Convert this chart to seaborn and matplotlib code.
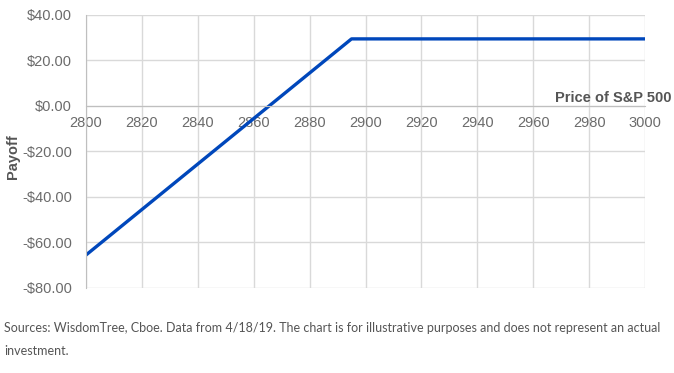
import seaborn as sns
import pandas as pd
from matplotlib import pyplot as plt
import matplotlib.ticker as mtick

# payoff of the position at expiry
price = [2800, 2895, 3000]
payoff = [-65.5, 29.5, 29.5]

x_ticks = list(range(2800, 3001, 20))
y_ticks = list(range(-80, 41, 20))

sns.set_style("whitegrid")
plt.rcParams['font.family'] = ['Liberation Sans', 'DejaVu Sans']

df = pd.DataFrame({'Price': price, 'Payoff': payoff})

fig = plt.figure(figsize=(6.74, 3.73), dpi=100)
ax = fig.add_axes([86 / 674, 1 - 288 / 373, (645 - 86) / 674, (288 - 15) / 373])

sns.lineplot(x='Price', y='Payoff', data=df, color='#0047bb', linewidth=2.4, ax=ax)

ax.set_xlim(2800, 3000)
ax.set_ylim(-80, 40)
ax.set_xticks(x_ticks)
ax.set_yticks(y_ticks)
ax.yaxis.set_major_formatter(mtick.FuncFormatter(
    lambda v, p: ('-$%.2f' % abs(v)) if v < 0 else '$%.2f' % v))

ax.grid(color='#d9d9d9', linewidth=1)
for s in ['top', 'right']:
    ax.spines[s].set_visible(False)
ax.spines['left'].set_color('#bfbfbf')
ax.spines['bottom'].set_color('#bfbfbf')
ax.spines['bottom'].set_position(('data', 0))
ax.tick_params(axis='both', length=0, labelsize=10.5, labelcolor='#6b6b6b')
ax.tick_params(axis='y', pad=10)
ax.tick_params(axis='x', pad=7)

ax.set_xlabel('')
ax.set_ylabel('Payoff', fontsize=10.5, fontweight='bold', color='#555555', labelpad=4)
ax.yaxis.set_label_coords(-0.118, 0.48)
ax.text(1.047, 0.695, 'Price of S&P 500', transform=ax.transAxes, ha='right',
        va='center', fontsize=10.5, fontweight='bold', color='#555555')

fig.text(4 / 674, 1 - 328 / 373, 'Sources: WisdomTree, Cboe. Data from 4/18/19. The chart is for '
         'illustrative purposes and does not represent an actual', fontsize=9.0,
         color='#555555', va='center', family=['Lato', 'DejaVu Sans'])
fig.text(4 / 674, 1 - 351 / 373, 'investment.', fontsize=9.0, color='#555555', va='center',
         family=['Lato', 'DejaVu Sans'])

fig.savefig('out.png', dpi=100)
